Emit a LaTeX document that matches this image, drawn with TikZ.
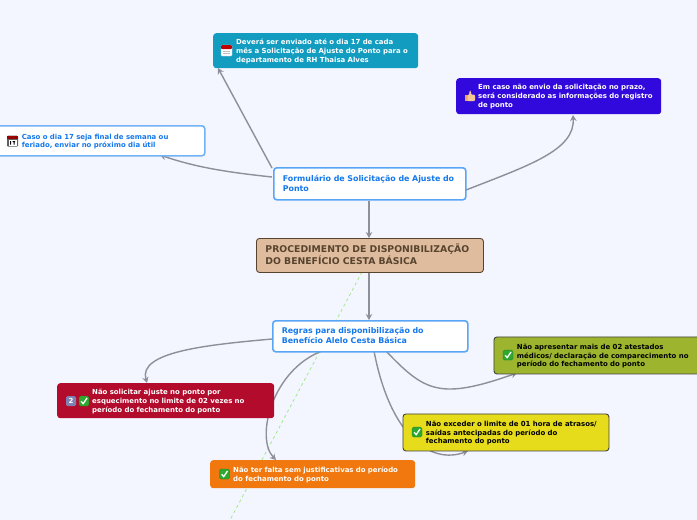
\documentclass[tikz,border=0pt]{standalone}
\usepackage{fontspec}
\setmainfont{DejaVu Sans}
\usepackage{xcolor}
\usetikzlibrary{positioning,arrows.meta,calc}
\definecolor{pagebg}{HTML}{F3F6FF}
\definecolor{linkgray}{HTML}{8E8F98}
\definecolor{whiteedge}{HTML}{72B2F6}
\definecolor{formedge}{HTML}{5AA6F6}
\definecolor{bluetext}{HTML}{1478EC}
\definecolor{brownfill}{HTML}{E0BC9E}
\definecolor{browntext}{HTML}{57442F}
\definecolor{tealfill}{HTML}{119CC0}
\definecolor{violetfill}{HTML}{3209DC}
\definecolor{redfill}{HTML}{B30B2B}
\definecolor{olivefill}{HTML}{9DB52E}
\definecolor{yellowfill}{HTML}{E6DC1C}
\definecolor{orangefill}{HTML}{F0780E}
\definecolor{checkgreen}{HTML}{2FA82F}
\newcommand{\boxlines}[3][2pt]{\hspace*{#2}\raisebox{0pt}[\dimexpr\height+#1\relax]{\begin{tabular}[t]{@{}l@{}}#3\end{tabular}}}
\tikzset{
  boxnode/.style={rounded corners=3pt,anchor=north west,align=left,inner xsep=0pt,inner ysep=0pt,
    font=\fontsize{6.95}{8.6}\selectfont\bfseries},
  whitebox/.style={boxnode,draw=whiteedge,line width=1.6pt,fill=white,text=bluetext},
  titlebox/.style={whitebox,draw=formedge,font=\fontsize{7.9}{10}\selectfont\bfseries},
  pics/checkicon/.style={code={
    \fill[checkgreen,draw=checkgreen!70!black,line width=.3pt,rounded corners=1.5pt] (-5,-5) rectangle (5,5);
    \draw[white,line width=1.3pt] (-2.8,.3) -- (-.8,2.6) -- (3,-3);
  }},
  pics/keyicon/.style={code={
    \fill[blue!25!gray!80,rounded corners=1.5pt] (-5,-5) rectangle (5,5);
    \node[text=white,inner sep=0pt,font=\fontsize{7}{7}\selectfont\bfseries] (digit) at (0,0) {2};
  }},
  pics/calicon/.style={code={
    \fill[white,draw=gray!40,line width=.3pt,rounded corners=1pt] (-5.5,-5) rectangle (5.5,6);
    \fill[red!75!black,rounded corners=1pt] (-5.5,-5) rectangle (5.5,-1);
    \draw[gray!50,line width=.4pt] (-3.5,1) -- (3.5,1) (-3.5,3.5) -- (3.5,3.5);
  }},
  pics/darkcalicon/.style={code={
    \fill[gray!75!black,rounded corners=1pt] (-5.5,-5.5) rectangle (5.5,5.5);
    \fill[red!60!black] (-5.5,-5.5) rectangle (5.5,-2);
    \fill[white] (-4,-1) rectangle (4,4.5);
    \fill[black] (-2.5,0.2) rectangle (-1.5,3.6) (0,0.2) rectangle (2.5,1) (1.2,1) rectangle (2,3.6);
  }},
  pics/thumbicon/.style={code={
    \fill[brown!55!orange!70] (-5,-1) rectangle (-2.5,5);
    \fill[brown!35!orange!45,rounded corners=1pt] (-2.5,-.5) -- (-.8,-1.5) -- (-.4,-5.5) -- (1,-5) -- (1,-1.5) -- (5,-1.5) -- (5,5) -- (-2.5,5) -- cycle;
  }}
}
\begin{document}
\begin{tikzpicture}[x=1pt,y=-1pt,>={Stealth[length=6pt,width=6.5pt]}]
\useasboundingbox (0,0) rectangle (697,520);
\fill[pagebg] (0,0) rectangle (697,520);
% dashed link runs under the boxes
\coordinate (dashtop) at (362,272);
\coordinate (dashend) at (230,520);
\draw[green!60!olive!45,dashed,line width=.8pt] (dashtop) -- (dashend);
% links
\begin{scope}[linkgray,line width=1.4pt]
\coordinate (proposta) at (573,115);
\coordinate (falta) at (276,460);
\coordinate (hora) at (468,451);
\coordinate (atest) at (517,373);
\coordinate (ajuste) at (147,383);
\coordinate (envio) at (218,68);
\coordinate (feriado) at (160,155);
\coordinate (formw) at (272,177);
\coordinate (formnw) at (272,168);
\coordinate (forme) at (466,190);
\coordinate (regrasw) at (272,339);
\coordinate (regrasa) at (322,351);
\coordinate (regrasb) at (374,351);
\coordinate (regrasc) at (386,351);
\draw[->] (formnw) -- (envio);
\draw[->] (formw) .. controls (225,172) and (195,167) .. (feriado);
\draw[->] (forme) .. controls (530,165) and (575,150) .. (proposta);
\draw[->] (regrasw) .. controls (205,345) and (138,352) .. (ajuste);
\draw[->] (regrasa) .. controls (272,370) and (255,438) .. (falta);
\draw[->] (regrasb) .. controls (390,435) and (430,465) .. (hora);
\draw[->] (regrasc) .. controls (425,392) and (440,400) .. (atest);
\end{scope}
% boxes
\node[boxnode,fill=tealfill,text=white,minimum width=205pt,minimum height=35pt,text width=205pt] (envionode) at (213,33)
  {\boxlines{23pt}{Deverá ser enviado até o dia 17 de cada\\mês a Solicitação de Ajuste do Ponto para o\\departamento de RH Thaisa Alves}};
\node[boxnode,fill=violetfill,text=white,minimum width=205pt,minimum height=36pt,text width=205pt] (prazonode) at (456,78)
  {\boxlines[1pt]{22pt}{Em caso não envio da solicitação no prazo,\\será considerado as informações do registro\\de ponto}};
\node[whitebox,minimum width=209pt,minimum height=30pt,text width=209pt] (feriadonode) at (-5,125)
  {\boxlines{26pt}{Caso o dia 17 seja final de semana ou\\feriado, enviar no próximo dia útil}};
\node[titlebox,minimum width=192pt,minimum height=32pt,text width=192pt] (form) at (273,167)
  {\boxlines{9pt}{Formulário de Solicitação de Ajuste do\\Ponto}};
\node[boxnode,draw=browntext,line width=.9pt,fill=brownfill,text=browntext,minimum width=227pt,minimum height=34pt,text width=227pt,font=\fontsize{9.3}{11}\selectfont\bfseries] (proc) at (256,238)
  {\boxlines[1pt]{9pt}{PROCEDIMENTO DE DISPONIBILIZAÇÃO\\DO BENEFÍCIO CESTA BÁSICA}};
\node[titlebox,minimum width=195pt,minimum height=31pt,text width=195pt] (regras) at (272,320)
  {\boxlines[0pt]{9pt}{Regras para disponibilização do\\Benefício Alelo Cesta Básica}};
\node[boxnode,fill=redfill,text=white,minimum width=217pt,minimum height=35pt,text width=217pt] (ajustenode) at (57,383)
  {\boxlines{35pt}{Não solicitar ajuste no ponto por\\esquecimento no limite de 02 vezes no\\período do fechamento do ponto}};
\node[boxnode,draw=black!75,line width=.9pt,fill=olivefill,text=black,minimum width=220pt,minimum height=37pt,text width=220pt] (atestnode) at (493.5,336.5)
  {\boxlines{23pt}{Não apresentar mais de 02 atestados\\médicos/ declaração de comparecimento no\\período do fechamento do ponto}};
\node[boxnode,draw=black!75,line width=.9pt,fill=yellowfill,text=black,minimum width=206pt,minimum height=37pt,text width=206pt] (horanode) at (402.5,413.5)
  {\boxlines{23pt}{Não exceder o limite de 01 hora de atrasos/\\saídas antecipadas do período do\\fechamento do ponto}};
\node[boxnode,fill=orangefill,text=white,minimum width=205pt,minimum height=28pt,text width=205pt] (faltanode) at (210,460)
  {\boxlines{23pt}{Não ter falta sem justificativas do período\\do fechamento do ponto}};
% straight links between the middle boxes
\draw[->,linkgray,line width=1.4pt] (form.south -| 369,200) -- (proc.north -| 369,238);
\draw[->,linkgray,line width=1.4pt] (proc.south -| 369,273) -- (regras.north -| 369,320);
% icons
\pic at (226.5,50) {calicon};
\pic at (470,96) {thumbicon};
\pic at (12.5,141) {darkcalicon};
\pic at (71,401) {keyicon};
\pic at (84,401) {checkicon};
\pic at (508,355) {checkicon};
\pic at (417,432) {checkicon};
\pic at (224.5,474) {checkicon};
\end{tikzpicture}
\end{document}
